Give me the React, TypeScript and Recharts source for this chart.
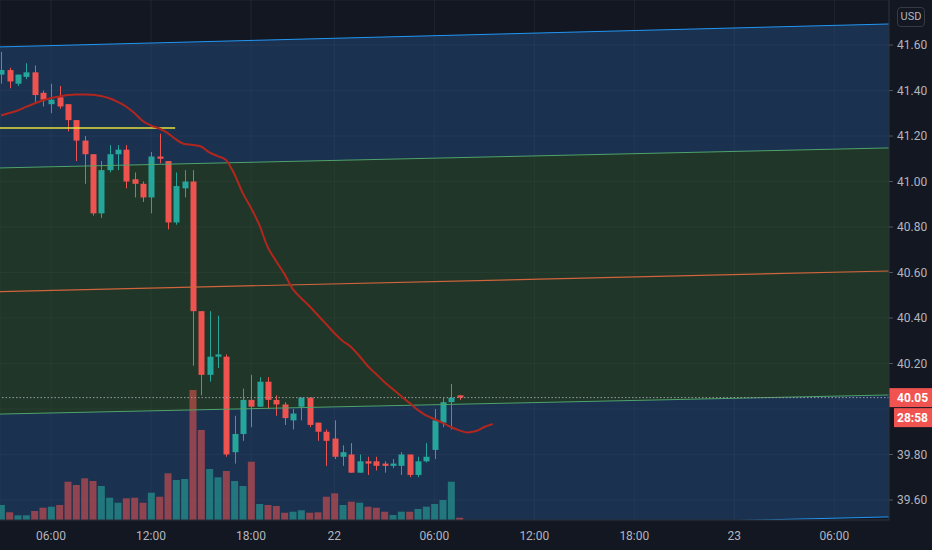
import React from "react";
import {
  ComposedChart, Bar, Line, Area, XAxis, YAxis, CartesianGrid, ReferenceLine, Cell,
} from "recharts";

// 30-minute bars, index 0 = 03:00 on the 21st
const opens = [
  41.47, 41.49, 41.43, 41.46, 41.48, 41.39, 41.34, 41.37, 41.34, 41.27,
  41.18, 41.12, 40.86, 41.05, 41.12, 41.14, 41.01, 40.99, 40.93, 41.11,
  41.09, 40.82, 40.97, 41.0, 40.43, 40.15, 40.23, 40.23, 39.81, 39.89,
  40.04, 40.01, 40.12, 40.04, 40.02, 39.95, 40.01, 40.05, 39.94, 39.9,
  39.87, 39.79, 39.8, 39.72, 39.77, 39.77, 39.76, 39.75, 39.75, 39.8,
  39.71, 39.77, 39.82, 39.94, 40.03, 40.06,
];
const highs = [
  41.57, 41.5, 41.47, 41.52, 41.51, 41.4, 41.43, 41.42, 41.34, 41.27,
  41.2, 41.12, 41.09, 41.16, 41.16, 41.16, 41.04, 41.0, 41.13, 41.21,
  41.09, 41.04, 41.05, 41.05, 40.43, 40.43, 40.41, 40.24, 39.97, 40.09,
  40.15, 40.14, 40.14, 40.06, 40.03, 40.0, 40.05, 40.05, 39.94, 39.91,
  39.95, 39.84, 39.85, 39.8, 39.79, 39.79, 39.77, 39.78, 39.81, 39.8,
  39.79, 39.85, 40.0, 40.05, 40.11, 40.06,
];
const lows = [
  41.43, 41.41, 41.42, 41.45, 41.35, 41.33, 41.3, 41.32, 41.22, 41.09,
  40.99, 40.85, 40.84, 41.04, 41.05, 40.97, 40.93, 40.91, 40.86, 41.08,
  40.79, 40.81, 40.93, 40.19, 40.06, 40.12, 40.18, 39.79, 39.76, 39.86,
  39.92, 40.01, 40.0, 39.97, 39.93, 39.91, 39.95, 39.92, 39.86, 39.75,
  39.78, 39.75, 39.72, 39.72, 39.71, 39.73, 39.72, 39.74, 39.71, 39.7,
  39.7, 39.765, 39.78, 39.92, 39.91, 40.04,
];
const closes = [
  41.49, 41.44, 41.47, 41.48, 41.38, 41.36, 41.36, 41.33, 41.27, 41.18,
  41.12, 40.86, 41.05, 41.12, 41.14, 41.0, 40.99, 40.93, 41.11, 41.1,
  40.82, 40.98, 41.0, 40.43, 40.15, 40.23, 40.24, 39.8, 39.89, 40.04,
  40.01, 40.12, 40.04, 40.02, 39.96, 39.98, 40.05, 39.93, 39.9, 39.86,
  39.79, 39.81, 39.72, 39.77, 39.76, 39.75, 39.75, 39.76, 39.8, 39.71,
  39.77, 39.79, 39.95, 40.03, 40.05, 40.05,
];
const volumes = [
  150, 77, 47, 47, 90, 123, 133, 150, 383, 350,
  417, 390, 340, 223, 173, 217, 223, 173, 273, 233,
  467, 400, 410, 1300, 900, 510, 427, 490, 390, 340,
  583, 160, 150, 140, 73, 83, 97, 73, 77, 233,
  267, 150, 183, 173, 133, 123, 83, 50, 83, 83,
  110, 133, 160, 200, 383, 23,
];
// moving average, drawn a few bars past the last candle
const ma = [
  41.29, 41.301, 41.312, 41.328, 41.343, 41.356, 41.367, 41.374, 41.38, 41.383,
  41.383, 41.382, 41.376, 41.366, 41.35, 41.33, 41.301, 41.266, 41.246, 41.233,
  41.213, 41.185, 41.165, 41.161, 41.154, 41.128, 41.112, 41.095, 41.033, 40.95,
  40.884, 40.809, 40.712, 40.651, 40.594, 40.528, 40.488, 40.453, 40.413, 40.374,
  40.334, 40.299, 40.273, 40.233, 40.189, 40.154, 40.119, 40.088, 40.057, 40.027,
  39.996, 39.972, 39.956, 39.939, 39.921, 39.906, 39.897, 39.903, 39.921, 39.934,
];

// regression channel end points
const channelX = [-1, 107];
const upperOuter = [41.591, 41.693];
const upperInner = [41.059, 41.148];
const midLine = [40.515, 40.607];
const lowerInner = [39.977, 40.062];
const lowerOuter = [39.432, 39.526];

const levelPrice = 41.235;
const levelFrom = -0.12;
const levelTo = 20.9;

const lastPrice = 40.05;
const countdown = "28:58";

const timeTicks = [6, 18, 30, 40, 52, 64, 76, 88, 100];
const timeLabels = ["06:00", "12:00", "18:00", "22", "06:00", "12:00", "18:00", "23", "06:00"];
const priceTicks = [39.6, 39.8, 40.0, 40.2, 40.4, 40.6, 40.8, 41.0, 41.2, 41.4, 41.6];

const UP = "#26a69a";
const DOWN = "#ef5350";
const BG = "#131722";
const AXIS_TEXT = "#b2b5be";
const BORDER = "#2a2e39";

const data = ma.map((m, i) => {
  const row: any = { k: i, ma: m };
  if (i < opens.length) {
    row.open = opens[i];
    row.high = highs[i];
    row.low = lows[i];
    row.close = closes[i];
    row.range = [lows[i], highs[i]];
    row.vol = volumes[i];
  }
  return row;
});

const channelData = channelX.map((k, i) => ({
  k,
  uo: upperOuter[i],
  ui: upperInner[i],
  mid: midLine[i],
  li: lowerInner[i],
  lo: lowerOuter[i],
  bandTop: [upperInner[i], upperOuter[i]],
  bandMid: [lowerInner[i], upperInner[i]],
  bandLow: [lowerOuter[i], lowerInner[i]],
}));

const Candle = (props: any) => {
  const { x, y, width, height, payload } = props;
  if (!payload || payload.high == null) return null;
  const top = Math.min(y, y + height);
  const h = Math.abs(height);
  const span = payload.high - payload.low || 1;
  const py = (p: number) => top + ((payload.high - p) / span) * h;
  const up = payload.close >= payload.open;
  const color = up ? UP : DOWN;
  const cx = Math.round(x + width / 2) + 0.5;
  const bTop = py(Math.max(payload.open, payload.close));
  const bBot = py(Math.min(payload.open, payload.close));
  return (
    <g>
      <line x1={cx} x2={cx} y1={top} y2={top + h} stroke={color} strokeWidth={1} />
      <rect x={cx - 3} y={bTop} width={6} height={Math.max(1, bBot - bTop)} fill={color} />
    </g>
  );
};

const PriceTick = (props: any) => {
  const { x, y, payload } = props;
  if (Math.abs(payload.value - 40) < 0.001) return null;
  return (
    <g>
      <line x1={x - 8} x2={x - 4} y1={y} y2={y} stroke="#50535e" />
      <text x={x} y={y} dy="0.355em" fill={AXIS_TEXT} fontSize={12} fontFamily="Roboto">
        {payload.value.toFixed(2)}
      </text>
    </g>
  );
};

const LastPriceLabel = (props: any) => {
  const { viewBox } = props;
  if (!viewBox) return null;
  const left = viewBox.x + viewBox.width;
  const y = viewBox.y;
  return (
    <g>
      <rect x={left} y={y - 9.5} width={43} height={19} fill="#f05350" />
      <text x={left + 8} y={y} dy="0.355em" fill="#ffffff" fontSize={12} fontWeight="bold" fontFamily="Roboto">
        {lastPrice.toFixed(2)}
      </text>
      <rect x={left + 5} y={y + 10.5} width={38} height={19} fill="#f05350" />
      <text x={left + 8} y={y + 20} dy="0.355em" fill="#ffffff" fontSize={12} fontWeight="bold" fontFamily="Roboto">
        {countdown}
      </text>
    </g>
  );
};

export default function App() {
  return (
    <div
      style={{
        position: "absolute", left: 0, top: 0, width: 932, height: 550,
        background: BG, overflow: "hidden", fontFamily: "Roboto",
      }}
    >
      <ComposedChart width={932} height={550} data={data} margin={{ top: 0, right: 0, left: 0, bottom: 0 }}>
        <XAxis
          xAxisId="t" dataKey="k" type="number" domain={[-0.12, 106.56]} allowDataOverflow
          ticks={timeTicks} interval={0} height={30}
          tickFormatter={(v: number) => timeLabels[timeTicks.indexOf(v)] ?? ""}
          tick={{ fill: AXIS_TEXT, fontSize: 12, fontFamily: "Roboto" }}
          tickLine={false} tickSize={0} tickMargin={11}
          axisLine={{ stroke: BORDER }}
        />
        <XAxis xAxisId="v" dataKey="k" type="number" domain={[-0.12, 106.56]} allowDataOverflow ticks={timeTicks} hide />
        <YAxis
          yAxisId="p" orientation="right" type="number" domain={[39.512, 41.798]} allowDataOverflow
          ticks={priceTicks} interval={0} width={43}
          tick={<PriceTick />} tickLine={false} tickSize={4} tickMargin={4}
          axisLine={{ stroke: BORDER }}
        />
        <YAxis yAxisId="v" type="number" domain={[0, 5200]} hide />

        <Area data={channelData} xAxisId="t" yAxisId="p" dataKey="bandTop" type="linear" activeDot={false}
          stroke="none" fill="rgb(35,75,126)" fillOpacity={0.5} isAnimationActive={false} />
        <Area data={channelData} xAxisId="t" yAxisId="p" dataKey="bandMid" type="linear" activeDot={false}
          stroke="none" fill="rgb(43,85,46)" fillOpacity={0.5} isAnimationActive={false} />
        <Area data={channelData} xAxisId="t" yAxisId="p" dataKey="bandLow" type="linear" activeDot={false}
          stroke="none" fill="rgb(35,75,126)" fillOpacity={0.5} isAnimationActive={false} />

        <CartesianGrid xAxisId="t" yAxisId="p" stroke="rgba(255,255,255,0.06)" />

        <Line data={channelData} xAxisId="t" yAxisId="p" dataKey="uo" type="linear" stroke="#2196f3" strokeWidth={1} dot={false} activeDot={false} isAnimationActive={false} />
        <Line data={channelData} xAxisId="t" yAxisId="p" dataKey="ui" type="linear" stroke="#4fa36c" strokeWidth={1} dot={false} activeDot={false} isAnimationActive={false} />
        <Line data={channelData} xAxisId="t" yAxisId="p" dataKey="mid" type="linear" stroke="#d0643c" strokeWidth={1.2} dot={false} activeDot={false} isAnimationActive={false} />
        <Line data={channelData} xAxisId="t" yAxisId="p" dataKey="li" type="linear" stroke="#4fa36c" strokeWidth={1} dot={false} activeDot={false} isAnimationActive={false} />
        <Line data={channelData} xAxisId="t" yAxisId="p" dataKey="lo" type="linear" stroke="#2196f3" strokeWidth={1} dot={false} activeDot={false} isAnimationActive={false} />

        <ReferenceLine xAxisId="t" yAxisId="p" ifOverflow="visible"
          segment={[{ x: levelFrom, y: levelPrice }, { x: levelTo, y: levelPrice }]}
          stroke="#e6e03c" strokeWidth={1.5} />

        <Bar xAxisId="v" yAxisId="v" dataKey="vol" barSize={7} isAnimationActive={false}>
          {data.map((d, i) => (
            <Cell key={i} fill={d.close >= d.open ? "rgba(38,166,154,0.6)" : "rgba(239,83,80,0.55)"} />
          ))}
        </Bar>

        <ReferenceLine xAxisId="t" yAxisId="p" y={lastPrice} stroke="#9a9da6"
          strokeDasharray="1.5 2" label={<LastPriceLabel />} />

        <Line xAxisId="t" yAxisId="p" dataKey="ma" type="monotone" stroke="#b3261e" strokeWidth={2} dot={false} activeDot={false} isAnimationActive={false} />

        <Bar xAxisId="t" yAxisId="p" dataKey="range" barSize={7} shape={<Candle />} isAnimationActive={false} />
      </ComposedChart>
      <div
        style={{
          position: "absolute", left: 897, top: 7, width: 26, height: 18,
          border: "1px solid #363a45", borderRadius: 4, color: AXIS_TEXT,
          fontSize: 11, lineHeight: "18px", textAlign: "center",
        }}
      >
        USD
      </div>
    </div>
  );
}
